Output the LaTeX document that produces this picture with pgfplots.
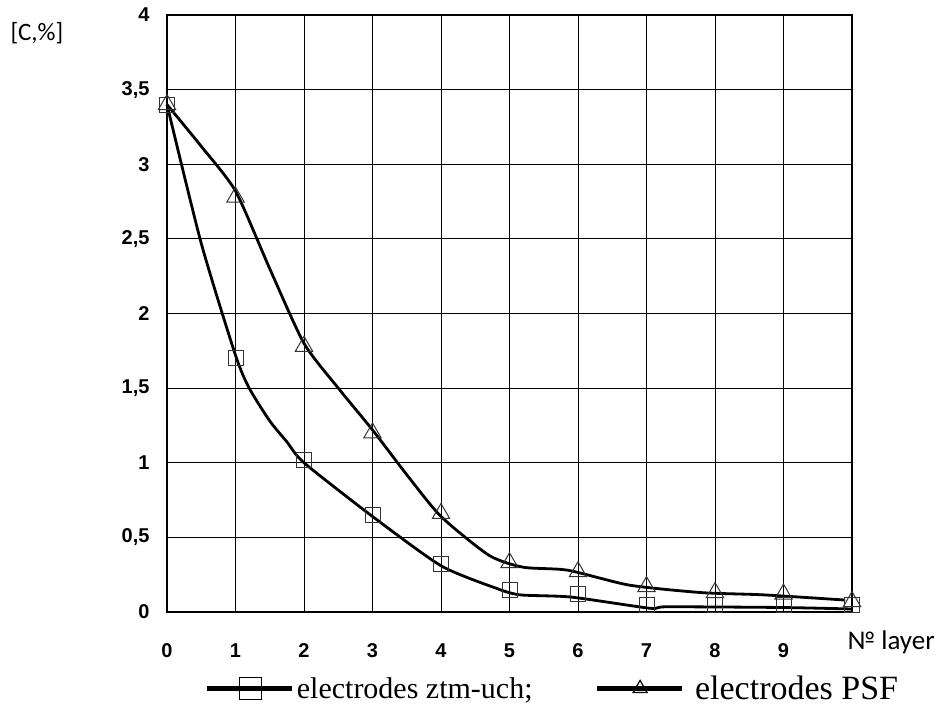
\documentclass[border=0pt]{standalone}
\usepackage{pgfplots}
\pgfplotsset{compat=1.18}
\usepackage{fontspec}
\setmainfont{Liberation Serif}
\newfontfamily\ticksf{Liberation Sans}
\newfontfamily\calib{Carlito}

\begin{document}
\begin{tikzpicture}
\begin{axis}[
  name=main,
  width=685pt, height=597pt, scale only axis,
  xmin=0, xmax=10, ymin=0, ymax=4,
  xtick={0,...,10}, xticklabels={0,1,2,3,4,5,6,7,8,9,},
  ytick={0,0.5,...,4},
  major tick length=0pt,
  /pgf/number format/assume math mode=true,
  /pgf/number format/use comma,
  tick label style={font=\ticksf\bfseries\fontsize{20}{22}\selectfont},
  xticklabel style={yshift=-28pt},
  yticklabel style={xshift=-14pt},
  grid=major, grid style={black, line width=0.9pt},
  axis line style={line width=2.4pt},
  clip=false,
  legend columns=2,
  legend style={at={(axis description cs:0.055,-0.128)}, anchor=west,
    draw=none, fill=none, inner sep=0pt,
    font=\fontsize{30}{32}\selectfont,
    /tikz/every even column/.append style={column sep=60pt}},
  legend image code/.code={
    \draw[line width=5pt, black] (0pt,0pt) -- (85pt,0pt);
    \draw[#1, line width=1.2pt, black] plot coordinates {(43pt,0pt)};
  },
]
% curves
\addplot[black, line width=2.8pt, smooth, tension=0.4, forget plot] coordinates {
  (0,3.4) (0.5,2.47) (1,1.72) (1.2,1.5) (1.5,1.28) (1.75,1.14) (2,1.0)
  (3,0.64) (4,0.31) (4.8,0.16) (5.15,0.115) (5.9,0.10) (7.05,0.025)
  (7.3,0.035) (9,0.03) (10,0.02)};
\addplot[black, line width=2.8pt, smooth, tension=0.4, forget plot] coordinates {
  (0,3.4) (0.5,3.12) (1,2.82) (1.5,2.3) (2,1.8) (2.5,1.5) (3,1.22) (3.5,0.92)
  (4,0.64) (4.7,0.38) (5.2,0.3) (5.85,0.28) (6.75,0.18) (7.8,0.13)
  (8.7,0.115) (9.9,0.08)};
% markers
\addplot[only marks, mark=square, mark size=7.5pt, mark options={draw=black!80, line width=1pt}, forget plot] coordinates {
  (0,3.4) (1,1.7) (2,1.02) (3,0.65) (4,0.32) (5,0.15) (6,0.12)
  (7,0.05) (8,0.05) (9,0.045) (10,0.05)};
\addplot[only marks, mark=triangle, mark size=10pt, mark options={draw=black!80, line width=1pt}, forget plot] coordinates {
  (0,3.4) (1,2.78) (2,1.78) (3,1.2) (4,0.66) (5,0.33) (6,0.27)
  (7,0.17) (8,0.13) (9,0.12) (10,0.07)};
\addlegendimage{mark=square, mark size=11pt}
\addlegendentry{electrodes ztm-uch;}
\addlegendimage{mark=triangle, mark size=8pt}
\addlegendentry{\fontsize{34}{36}\selectfont\ electrodes PSF}
\end{axis}
\node[anchor=west, font=\calib\fontsize{25}{27}\selectfont] at ([shift={(-160pt,-18pt)}]main.north west) {[C,\%]};
\node[anchor=north west, font=\calib\fontsize{27}{29}\selectfont] at ([shift={(677pt,-15pt)}]main.south west) {№ layer};
\useasboundingbox ([shift={(-167pt,-107pt)}]main.south west) rectangle ([shift={(780pt,612pt)}]main.south west);
\end{tikzpicture}
\end{document}
